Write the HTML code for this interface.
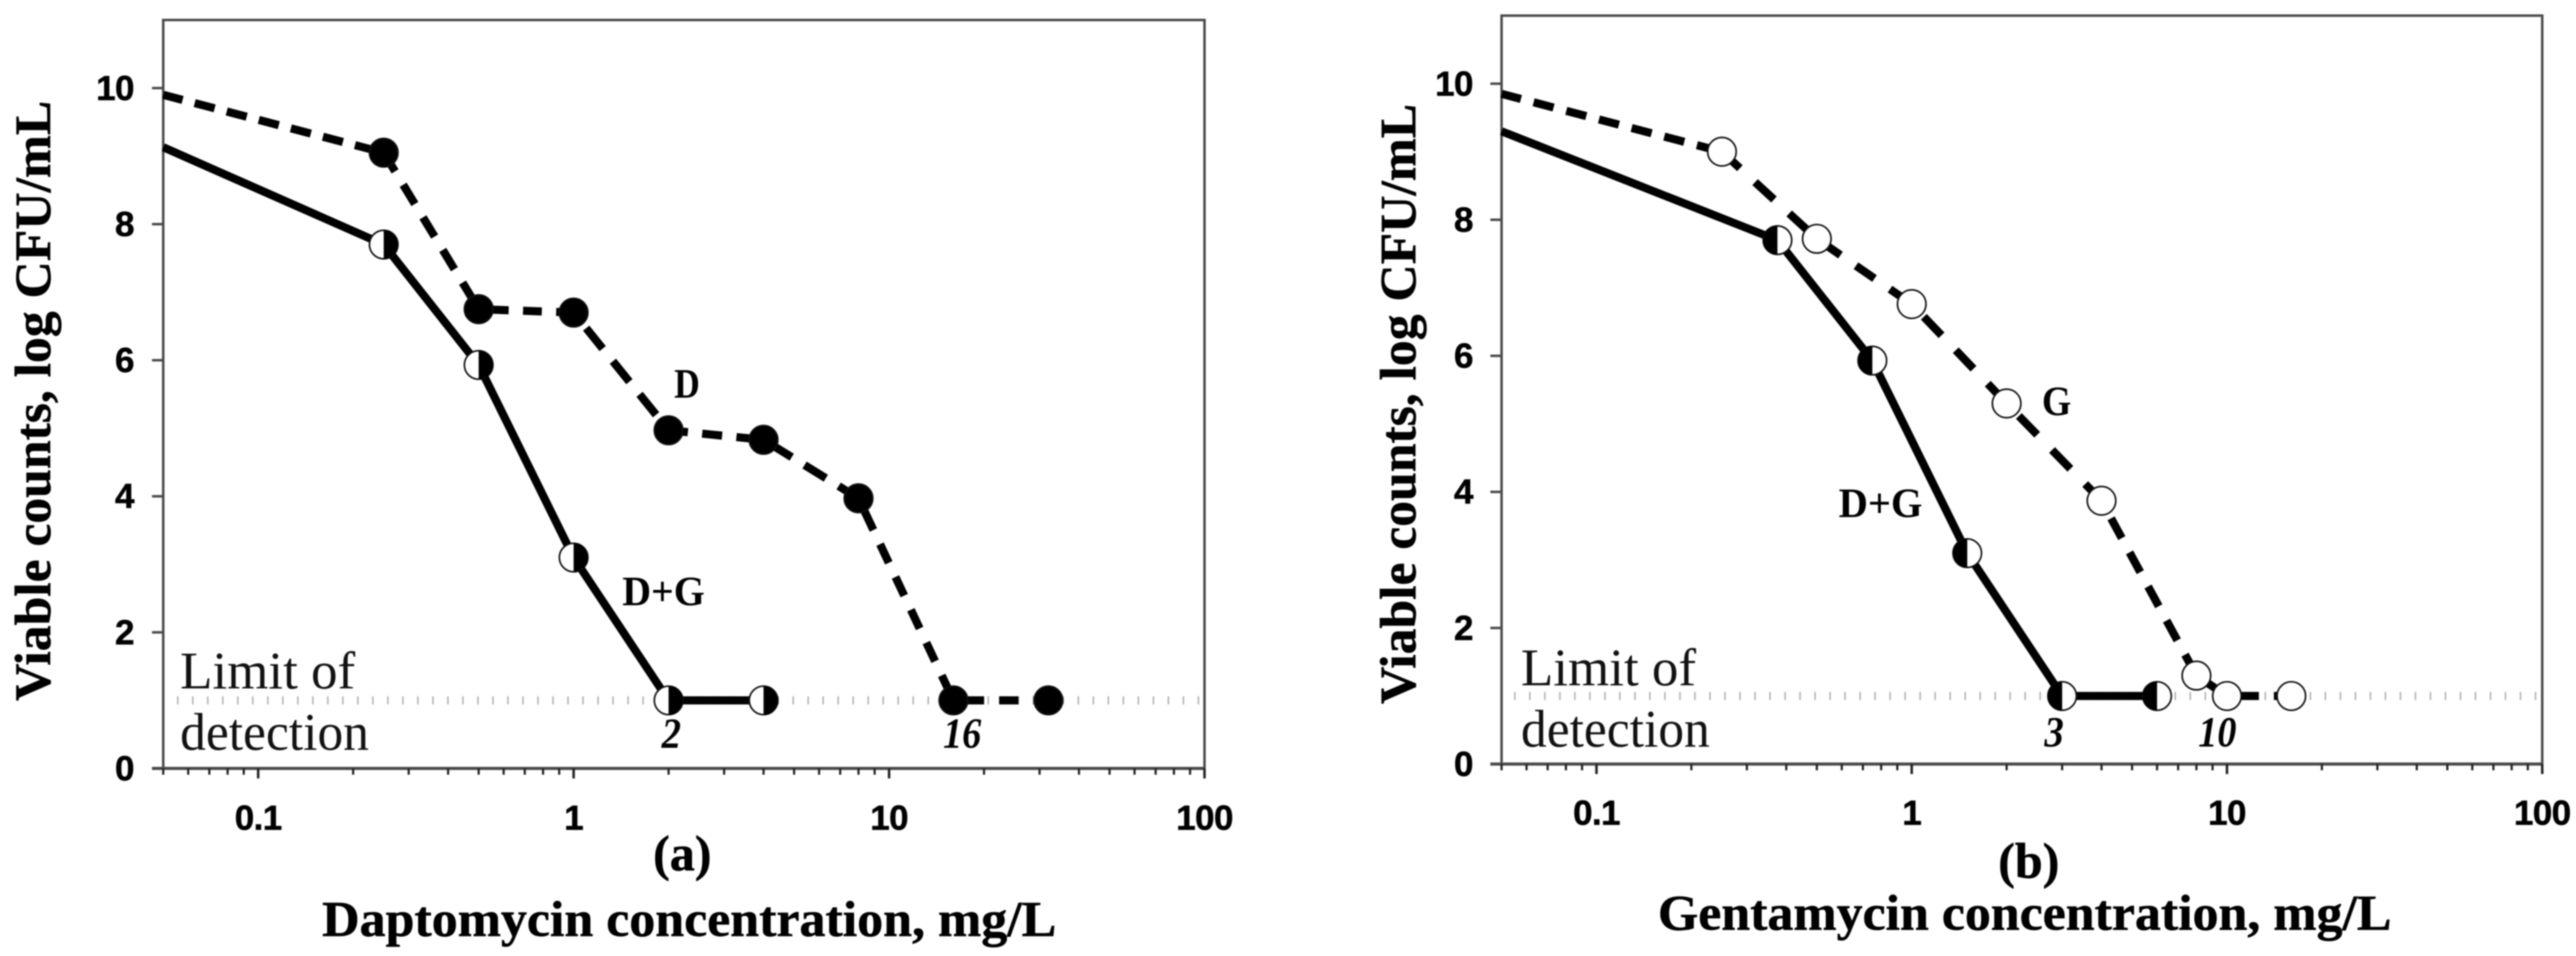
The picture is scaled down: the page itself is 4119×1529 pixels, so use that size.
<!DOCTYPE html>
<html lang="en">
<head>
<meta charset="utf-8">
<title>Viable counts vs concentration</title>
<style>
html,body{margin:0;padding:0;background:#fff;width:4119px;height:1529px;overflow:hidden}
svg{display:block;filter:blur(1px)}
.tick{font:bold 56px "Liberation Sans",sans-serif;fill:#000;stroke:#000;stroke-width:.8;letter-spacing:-1px}
.title{font:bold 80px "Liberation Serif",serif;fill:#000;stroke:#000;stroke-width:.8}
.ytitle{font:bold 82px "Liberation Serif",serif;fill:#000;stroke:#000;stroke-width:.8}
.lod{font:85px "Liberation Serif",serif;fill:#111}
.note{font:bold 67px "Liberation Serif",serif;fill:#000}
.mic{font:italic bold 69px "Liberation Serif",serif;fill:#000}
</style>
</head>
<body>
<svg id="chart" xmlns="http://www.w3.org/2000/svg" width="4119" height="1529" viewBox="0 0 4119 1529">
  <rect width="4119" height="1529" fill="#fff"/>
  <g id="panel-a"></g>
  <g id="panel-b"></g>

  <text class="ytitle" x="80" y="641" transform="rotate(-90 80 641)" text-anchor="middle" textLength="960" lengthAdjust="spacingAndGlyphs">Viable counts, log CFU/mL</text>
  <text class="title" x="1091" y="1392" text-anchor="middle">(a)</text>
  <text class="title" x="515" y="1497" textLength="1174" lengthAdjust="spacingAndGlyphs">Daptomycin concentration, mg/L</text>
  <text class="lod" x="288" y="1101" textLength="280" lengthAdjust="spacingAndGlyphs">Limit of</text>
  <text class="lod" x="288" y="1199" textLength="302" lengthAdjust="spacingAndGlyphs">detection</text>
  <text class="note" x="1078" y="636" textLength="41" lengthAdjust="spacingAndGlyphs">D</text>
  <text class="note" x="995" y="968" textLength="132" lengthAdjust="spacingAndGlyphs">D+G</text>
  <text class="mic" x="1058" y="1196" textLength="31" lengthAdjust="spacingAndGlyphs">2</text>
  <text class="mic" x="1508" y="1196" textLength="61" lengthAdjust="spacingAndGlyphs">16</text>

  <text class="ytitle" x="2263" y="646" transform="rotate(-90 2263 646)" text-anchor="middle" textLength="960" lengthAdjust="spacingAndGlyphs">Viable counts, log CFU/mL</text>
  <text class="title" x="3244" y="1404" text-anchor="middle">(b)</text>
  <text class="title" x="2651" y="1487" textLength="1173" lengthAdjust="spacingAndGlyphs">Gentamycin concentration, mg/L</text>
  <text class="lod" x="2432" y="1096" textLength="280" lengthAdjust="spacingAndGlyphs">Limit of</text>
  <text class="lod" x="2432" y="1194" textLength="302" lengthAdjust="spacingAndGlyphs">detection</text>
  <text class="note" x="3265" y="664" textLength="47" lengthAdjust="spacingAndGlyphs">G</text>
  <text class="note" x="2940" y="827" textLength="134" lengthAdjust="spacingAndGlyphs">D+G</text>
  <text class="mic" x="3269" y="1194" textLength="31" lengthAdjust="spacingAndGlyphs">3</text>
  <text class="mic" x="3515" y="1194" textLength="61" lengthAdjust="spacingAndGlyphs">10</text>
</svg>
<script>
// --- Chart data ---
const xMajorTicks = [0.1, 1, 10, 100];
const xMajorLabels = ['0.1', '1', '10', '100'];
const xMinorTicks = [0.05, 0.06, 0.07, 0.08, 0.09, 0.2, 0.3, 0.4, 0.5, 0.6, 0.7, 0.8, 0.9, 2, 3, 4, 5, 6, 7, 8, 9, 20, 30, 40, 50, 60, 70, 80, 90];
const yTicks = [0, 2, 4, 6, 8, 10];
const yTickLabels = ['0', '2', '4', '6', '8', '10'];
const limitOfDetection = 1;

const daptoLineX = [0.05, 0.25, 0.5, 1, 2, 4, 8, 16, 32];
const daptoLineY = [9.9, 9.05, 6.75, 6.7, 4.97, 4.83, 3.97, 1, 1];
const comboALineX = [0.05, 0.25, 0.5, 1, 2, 4];
const comboALineY = [9.13, 7.7, 5.93, 3.1, 1, 1];

const gentaLineX = [0.05, 0.25, 0.5, 1, 2, 4, 8, 10, 16];
const gentaLineY = [9.85, 9.0, 7.72, 6.76, 5.3, 3.87, 1.3, 1, 1];
const comboBLineX = [0.05, 0.375, 0.75, 1.5, 3, 6];
const comboBLineY = [9.3, 7.7, 5.93, 3.1, 1, 1];

// --- Axis domains ---
const xMin = 0.05, xMax = 100, yMin = 0, yMax = 11;
const NS = 'http://www.w3.org/2000/svg';

// --- Dash style per segment: first dash end, dash length, gap length ---
const dashStyleD = [[32,33,20],[35,36,25],[48,30,23],[74,42,26],[31,32,23],[53,40,24],[56,33,25],[49,31,24]];
const dashStyleG = [[32,33,21],[39,41,33],[46,36,30],[69,41,33],[70,42,34],[68,36,26],[60,60,10],[51,32,24]];

function scales(box) {
  return {
    x: function (v) { return box.left + (Math.log10(v) - Math.log10(xMin)) / (Math.log10(xMax) - Math.log10(xMin)) * (box.right - box.left); },
    y: function (v) { return box.bottom - (v - yMin) / (yMax - yMin) * (box.bottom - box.top); }
  };
}

function make(parent, tag, props) {
  const el = document.createElementNS(NS, tag);
  for (const k in props) el.setAttribute(k, props[k]);
  parent.appendChild(el);
  return el;
}

function drawFrame(g, box, s, labelX, labelBaseline, limitStart) {
  const frame = make(g, 'path', { d: 'M' + box.left + ' ' + box.bottom + 'V' + box.top + 'H' + box.right + 'V' + box.bottom, fill: 'none', stroke: '#4a4a4a', 'stroke-width': 4 });
  
  

  const xAxis = make(g, 'line', { x1: box.left - 18, x2: box.right, y1: box.bottom, y2: box.bottom, stroke: '#4a4a4a', 'stroke-width': 5 });
  
  

  yTicks.forEach(function (v, i) {
    const t = make(g, 'line', { x1: box.left - 18, x2: box.left, y1: s.y(v), y2: s.y(v), stroke: '#4a4a4a', 'stroke-width': 4 });
    
    
    const l = make(g, 'text', { x: labelX, y: s.y(v) + 19, 'text-anchor': 'end', class: 'tick' });
    l.textContent = yTickLabels[i];
    
    
  });

  xMinorTicks.forEach(function (v) {
    const t = make(g, 'line', { x1: s.x(v), x2: s.x(v), y1: box.bottom, y2: box.bottom + 10, stroke: '#222', 'stroke-width': 3.5 });
    
    
  });

  xMajorTicks.forEach(function (v, i) {
    const t = make(g, 'line', { x1: s.x(v), x2: s.x(v), y1: box.bottom, y2: box.bottom + 16, stroke: '#222', 'stroke-width': 4 });
    
    
    const l = make(g, 'text', { x: s.x(v), y: labelBaseline, 'text-anchor': 'middle', class: 'tick' });
    l.textContent = xMajorLabels[i];
    
    
  });

  const lod = make(g, 'line', { x1: limitStart, x2: box.right - 4, y1: s.y(limitOfDetection), y2: s.y(limitOfDetection), stroke: '#b4b4b4', 'stroke-width': 13, 'stroke-dasharray': '2.5 21.5' });
  
  
}

function linePoints(xs, ys, s) {
  return xs.map(function (v, i) { return s.x(v) + ',' + s.y(ys[i]); }).join(' ');
}

function drawDashedSeries(g, xs, ys, s, dashStyle) {
  for (let i = 0; i < xs.length - 1; i++) {
    const st = dashStyle[i];
    const seg = make(g, 'line', {
      x1: s.x(xs[i]), y1: s.y(ys[i]), x2: s.x(xs[i + 1]), y2: s.y(ys[i + 1]),
      stroke: '#000', 'stroke-width': 13,
      'stroke-dasharray': st[1] + ' ' + st[2],
      'stroke-dashoffset': st[1] - st[0]
    });
    
    
  }
}

function drawSolidSeries(g, xs, ys, s) {
  const line = make(g, 'polyline', { points: linePoints(xs, ys, s), fill: 'none', stroke: '#000', 'stroke-width': 13 });
  
  
}

function drawCircles(g, xs, ys, s, fill) {
  xs.forEach(function (v, i) {
    if (v <= xMin) return;
    const c = make(g, 'circle', { cx: s.x(v), cy: s.y(ys[i]), r: 22.8, fill: fill, stroke: '#111', 'stroke-width': 2.6 });
    
    
  });
}

function drawHalfCircles(g, xs, ys, s, blackOnLeft) {
  xs.forEach(function (v, i) {
    if (v <= xMin) return;
    const cx = s.x(v), cy = s.y(ys[i]), r = 22.8;
    const c = make(g, 'circle', { cx: cx, cy: cy, r: r, fill: '#fff', stroke: '#111', 'stroke-width': 2.6 });
    
    
    const half = make(g, 'path', {
      d: 'M' + cx + ' ' + (cy - r) + 'A' + r + ' ' + r + ' 0 0 ' + (blackOnLeft ? 0 : 1) + ' ' + cx + ' ' + (cy + r) + 'Z',
      fill: '#000'
    });
    
    
  });
}

const boxA = { left: 261, right: 1926, top: 32, bottom: 1229 };
const boxB = { left: 2401, right: 4065, top: 25, bottom: 1222 };
const gA = document.getElementById('panel-a');
const gB = document.getElementById('panel-b');
const sA = scales(boxA);
const sB = scales(boxB);

drawFrame(gA, boxA, sA, 214, 1327, 283);
drawDashedSeries(gA, daptoLineX, daptoLineY, sA, dashStyleD);
drawSolidSeries(gA, comboALineX, comboALineY, sA);
drawCircles(gA, daptoLineX, daptoLineY, sA, '#000');
drawHalfCircles(gA, comboALineX, comboALineY, sA, false);

drawFrame(gB, boxB, sB, 2355, 1319, 2421);
drawDashedSeries(gB, gentaLineX, gentaLineY, sB, dashStyleG);
drawSolidSeries(gB, comboBLineX, comboBLineY, sB);
drawCircles(gB, gentaLineX, gentaLineY, sB, '#fff');
drawHalfCircles(gB, comboBLineX, comboBLineY, sB, true);
</script>
</body>
</html>
